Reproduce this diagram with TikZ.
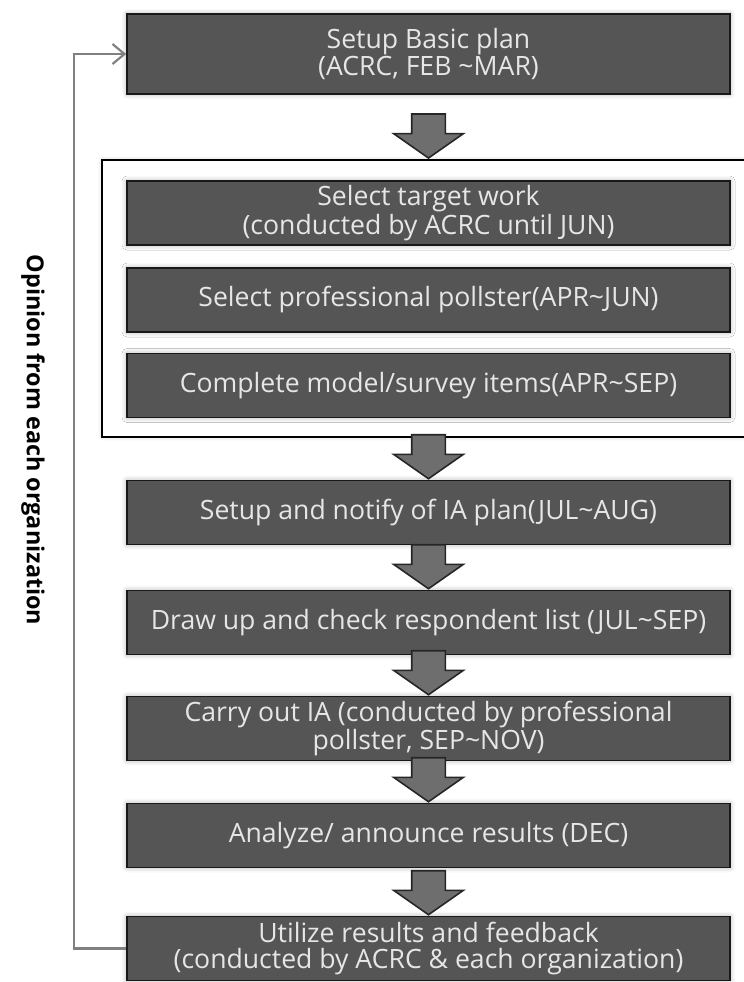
\documentclass[tikz,border=0pt]{standalone}
\usepackage{fontspec}
\setmainfont{Open Sans}
\usepackage{tikz}
\usetikzlibrary{arrows.meta, shapes.arrows, shadows.blur}

\definecolor{boxgray}{HTML}{555555}
\definecolor{textgray}{HTML}{E6E6E6}
\definecolor{arrowgray}{HTML}{6E6E6E}
\definecolor{loopgray}{HTML}{808080}

\begin{document}
\begin{tikzpicture}[
            x=0.5pt, y=-0.5pt,
            >={Straight Barb[length=6pt, width=10pt]},
            stage/.style={
                rectangle, draw=black!90, line width=0.8pt, fill=boxgray,
                text=textgray, align=center, inner sep=0pt,
                minimum width=301.5pt, minimum height=32pt,
                font=\fontsize{13.3}{13.2}\selectfont,
                blur shadow={shadow xshift=0pt, shadow yshift=0pt, shadow blur radius=2.5pt, shadow opacity=35}
            },
            group/.style={
                rectangle, draw=black, line width=1pt, fill=white, inner sep=0pt,
                blur shadow={shadow xshift=0pt, shadow yshift=0pt, shadow blur radius=2pt, shadow opacity=20}
            },
            down arrow/.style={
                single arrow, rotate=-90, anchor=tip,
                draw=black!85, line width=0.8pt, fill=arrowgray,
                inner xsep=0pt, inner ysep=8pt,
                minimum height=22pt, minimum width=34pt,
                single arrow head extend=9pt, single arrow tip angle=110
            },
            feedback/.style={->, draw=loopgray, line width=1.1pt}
        ]
            \useasboundingbox (0,0) rectangle (744,982);

            \node[group, minimum width=329pt, minimum height=138.5pt] (grp) at (431,298.5) {};

            \node[stage, minimum height=40pt] (plan) at (428.5,54) {Setup Basic plan\\(ACRC, FEB \textasciitilde MAR)};
            \node[stage] (target) at (428.5,213) {Select target work\\(conducted by ACRC until JUN)};
            \node[stage] (pollster) at (428.5,300) {Select professional pollster(APR\textasciitilde JUN)};
            \node[stage] (model) at (428.5,385.5) {Complete model/survey items(APR\textasciitilde SEP)};
            \node[stage] (notify) at (428.5,512.5) {Setup and notify of IA plan(JUL\textasciitilde AUG)};
            \node[stage] (list) at (428.5,622.5) {Draw up and check respondent list (JUL\textasciitilde SEP)};
            \node[stage] (survey) at (428.5,728.5) {Carry out IA (conducted by professional\\pollster, SEP\textasciitilde NOV)};
            \node[stage] (results) at (428.5,835.5) {Analyze/ announce results (DEC)};
            \node[stage] (utilize) at (428.5,948.5) {Utilize results and feedback\\(conducted by ACRC \& each organization)};

            \node[rotate=-90, font=\fontsize{11.7}{13}\selectfont\bfseries] (opinion) at (33,440) {Opinion from each organization};

            \path (plan.south) -- (plan.south |- grp.north) node[pos=1, down arrow] {};
            \path (grp.south) -- (notify.north) node[pos=1, down arrow] {};
            \path (notify.south) -- (list.north) node[pos=1, down arrow] {};
            \path (list.south) -- (survey.north) node[pos=1, down arrow] {};
            \path (survey.south) -- (results.north) node[pos=1, down arrow] {};
            \path (results.south) -- (utilize.north) node[pos=1, down arrow] {};

            \coordinate (loopx) at (74,0);
            \draw[feedback] (utilize.west) -- (utilize.west -| loopx) -- (plan.west -| loopx) -- (plan.west);
        \end{tikzpicture}
\end{document}
